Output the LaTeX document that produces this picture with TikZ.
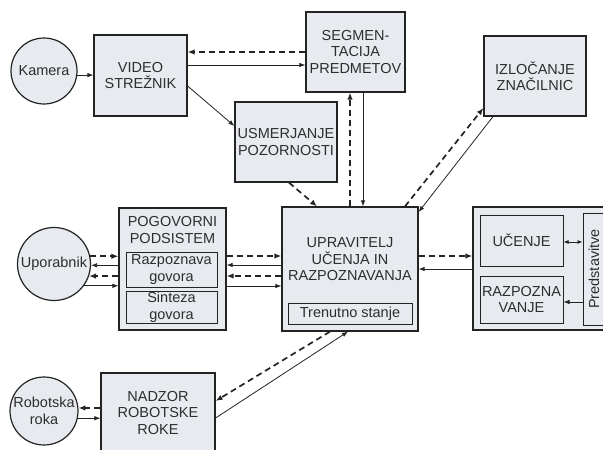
\documentclass[tikz,border=0pt]{standalone}
\usepackage{fontspec}
\setmainfont{Liberation Sans}
\usetikzlibrary{arrows.meta}
\definecolor{boxfill}{RGB}{231,235,240}
\definecolor{ink}{RGB}{35,35,35}
\definecolor{txtc}{RGB}{45,45,45}
\begin{document}
\begin{tikzpicture}[x=1pt,y=-1pt,
  every node/.style={font=\fontsize{14.5}{16.5}\selectfont, text=txtc},
  blk/.style={draw=ink, fill=boxfill, line width=1.2pt, rectangle, inner sep=0pt, align=center},
  inblk/.style={blk, line width=1pt},
  crc/.style={draw=ink, fill=boxfill, line width=1.2pt, circle, inner sep=0pt, align=center},
  txt/.style={align=center, inner sep=0pt},
  sarr/.style={draw=ink, line width=0.8pt, -{Latex[length=6pt,width=4.5pt]}},
  sarrb/.style={draw=ink, line width=0.8pt, {Latex[length=5pt,width=4pt]}-{Latex[length=5pt,width=4pt]}},
  darr/.style={draw=ink, line width=1.7pt, dash pattern=on 6pt off 4pt, -{Latex[length=7pt,width=5.5pt]}}
]
\useasboundingbox (0,0) rectangle (603,450);
\clip (0,0) rectangle (603,450);

% nodes
\node[crc, minimum size=66pt] (kam) at (44,71) {Kamera};
\node[blk, minimum width=93pt, minimum height=81pt] (vid) at (140.5,75.5) {VIDEO\\STREŽNIK};
\node[blk, minimum width=99pt, minimum height=80pt] (seg) at (355.5,52) {SEGMEN-\\TACIJA\\PREDMETOV};
\node[blk, minimum width=102pt, minimum height=80pt] (izl) at (535,76) {IZLOČANJE\\ZNAČILNIC};
\node[blk, minimum width=102pt, minimum height=80pt] (usm) at (286,142) {USMERJANJE\\POZORNOSTI};

\node[blk, minimum width=136pt, minimum height=124pt] (upr) at (350,269) {};
\node[txt] (uprt) at (350,259.5) {UPRAVITELJ\\UČENJA IN\\RAZPOZNAVANJA};
\node[inblk, minimum width=124pt, minimum height=21pt] (tre) at (350,313.5) {Trenutno stanje};

\node[blk, minimum width=107pt, minimum height=122pt] (pog) at (172.5,269) {};
\node[txt] (pogt) at (172.5,230) {POGOVORNI\\PODSISTEM};
\node[inblk, minimum width=91pt, minimum height=35pt] (raz) at (171.5,269.5) {Razpoznava\\govora};
\node[inblk, minimum width=91pt, minimum height=32pt] (sin) at (171.5,307) {Sinteza\\govora};

\node[crc, minimum size=73pt] (upo) at (54,264) {Uporabnik};
\node[crc, minimum size=68pt] (rob) at (44,411) {Robotska\\roka};

\node[blk, minimum width=114pt, minimum height=90pt] (nad) at (158,418) {};
\node[txt] (nadt) at (158,413) {NADZOR\\ROBOTSKE\\ROKE};

\node[blk, minimum width=167pt, minimum height=123pt] (big) at (556.5,268.5) {};
\node[inblk, minimum width=83pt, minimum height=51pt] (uce) at (521.5,240.5) {UČENJE};
\node[inblk, minimum width=83pt, minimum height=47pt] (rzv) at (521.5,299.5) {RAZPOZNA\\VANJE};
\node[inblk, minimum width=22pt, minimum height=112pt] (pre) at (594,269) {};
\node[txt, rotate=90] (pret) at (pre.center) {Predstavitve};

% connectors
\draw[sarr] (kam.-7) -- (vid.west |- kam.-7);
\draw[darr] (seg.west |- 0,52) -- (vid.east |- 0,52);
\draw[sarr] (vid.east |- 0,65) -- (seg.west |- 0,65);
\draw[sarr] (vid.east |- 0,86) -- (usm.west |- 0,126);
\draw[darr] (289,0 |- usm.south) -- (317,0 |- upr.north);
\draw[darr] (350,0 |- upr.north) -- (350,0 |- seg.south);
\draw[sarr] (363,0 |- seg.south) -- (363,0 |- upr.north);
\draw[darr] (405,0 |- upr.north) -- (izl.west |- 0,108);
\draw[sarr] (493,0 |- izl.south) -- (upr.east |- 0,212);

\draw[darr] (upr.east |- 0,256) -- (big.west |- 0,256);
\draw[sarr] (big.west |- 0,269) -- (upr.east |- 0,269);
\draw[sarrb] (uce.east |- 0,242) -- (pre.west |- 0,242);
\draw[sarr] (pre.west |- 0,302) -- (rzv.east |- 0,302);

\draw[darr] (pog.east |- 0,256) -- (upr.west |- 0,256);
\draw[sarr] (upr.west |- 0,265) -- (pog.east |- 0,265);
\draw[darr] (upr.west |- 0,276) -- (pog.east |- 0,276);
\draw[sarr] (pog.east |- 0,286) -- (upr.west |- 0,286);

\draw[darr] (upo.12) -- (pog.west |- upo.12);
\draw[sarr] (pog.west |- upo.-2) -- (upo.-2);
\draw[darr] (pog.west |- upo.-19) -- (upo.-19);
\draw[sarr] (upo.-36) -- (pog.west |- upo.-36);

\draw[darr] (nad.west |- rob.5) -- (rob.5);
\draw[sarr] (rob.-12) -- (nad.west |- rob.-12);
\draw[darr] (330,0 |- upr.south) -- (nad.east |- 0,401);
\draw[sarr] (nad.east |- 0,418) -- (348,0 |- upr.south);
\end{tikzpicture}
\end{document}
